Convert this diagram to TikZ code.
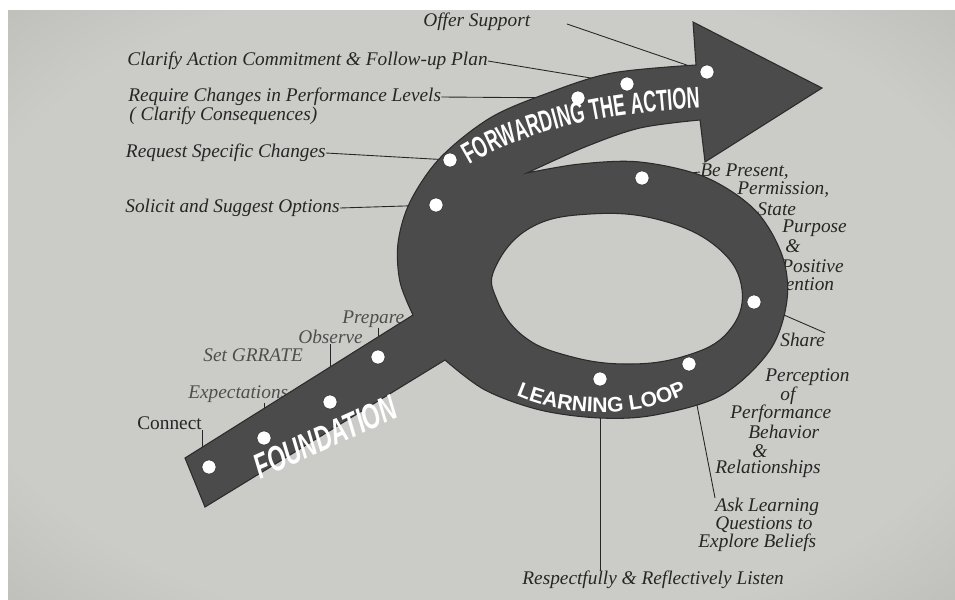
\documentclass[tikz,border=0pt]{standalone}
\usepackage{fontspec}
\setmainfont{Liberation Serif}
\newfontfamily\bandfont[FakeStretch=0.66]{Liberation Sans}
\newfontfamily\fwdfamily[FakeStretch=0.6]{Liberation Sans}
\newfontfamily\loopfont{Liberation Sans}
\usetikzlibrary{decorations.text}
\definecolor{pagec}{HTML}{CBCBC7}
\definecolor{paged}{HTML}{AAAAA5}
\definecolor{pagek}{HTML}{7E7E79}
\definecolor{shapec}{HTML}{4B4B4B}
\definecolor{edgec}{HTML}{2B2B2B}
\definecolor{inkc}{HTML}{262626}
\definecolor{fadec}{HTML}{4E4E4E}
\pgfdeclareradialshading{vignette}{\pgfpoint{0bp}{0bp}}{%
  color(0bp)=(pagec); color(28bp)=(pagec); color(50bp)=(paged); color(71bp)=(pagek)}
\newcommand\fwdfont{\fwdfamily\bfseries\fontsize{17}{17}\selectfont\color{white}}
\newcommand\loopfnt{\loopfont\bfseries\fontsize{12}{12}\selectfont\color{white}}
\tikzset{
  lbl/.style={font=\itshape\fontsize{11}{13}\selectfont, text=inkc, inner sep=0pt},
  ulbl/.style={lbl, font=\fontsize{11}{13}\selectfont},
  flbl/.style={lbl, text=fadec},
  lead/.style={draw=inkc, line width=0.5pt},
  dot/.style={circle, fill=white, draw=edgec, line width=0.3pt, inner sep=0pt, minimum size=0.28cm},
  band/.style={fill=shapec, draw=edgec, line width=0.6pt, even odd rule},
  fndtxt/.style={font=\bandfont\bfseries\itshape\fontsize{20}{20}\selectfont, text=white, inner sep=0pt},
}

\begin{document}
\begin{tikzpicture}[x=0.02cm, y=-0.02cm]
  \useasboundingbox (0,0) rectangle (955,599);
  \fill[white] (0,0) rectangle (955,599);
  \shade[shading=vignette] (8,10) rectangle (955,599);

  % dot places
  \coordinate (fwd1) at (707,72);
  \coordinate (fwd2) at (627,84);
  \coordinate (fwd3) at (578,98);
  \coordinate (fwd4) at (450,160);
  \coordinate (fwd5) at (436,205);
  \coordinate (loop1) at (642,178);
  \coordinate (loop2) at (754,302);
  \coordinate (loop3) at (689,364);
  \coordinate (loop4) at (600,379);
  \coordinate (fnd1) at (209,467);
  \coordinate (fnd2) at (264,438);
  \coordinate (fnd3) at (330,402);
  \coordinate (fnd4) at (378,357);

  % forwarding the action labels
  \node[lbl, anchor=west] (offer) at (423,22) {Offer Support};
  \coordinate (offerlead) at (567,24);
  \node[lbl, anchor=east] (clarify) at (488,61) {Clarify Action Commitment \& Follow-up Plan};
  \node[lbl, anchor=west] (require) at (128,97) {Require Changes in Performance Levels};
  \node[lbl, anchor=west] (conseq) at (129,116) {( Clarify Consequences)};
  \node[lbl, anchor=east] (request) at (326,153) {Request Specific Changes};
  \node[lbl, anchor=west] (solicit) at (125,208) {Solicit and Suggest Options};
  \draw[lead] (offerlead) -- (fwd1);
  \draw[lead] (clarify.east) -- (fwd2);
  \draw[lead] (require.east) -- (fwd3);
  \draw[lead] (request.east) -- (fwd4);
  \draw[lead] (solicit.east) -- (fwd5);

  % learning loop labels
  \node[lbl, anchor=west] (bepresent) at (700,172) {Be Present,};
  \node[lbl, anchor=west] (permission) at (737,190) {Permission,};
  \node[lbl, anchor=west] (state) at (757,209) {State};
  \node[lbl, anchor=west] (purpose) at (782,228) {Purpose};
  \node[lbl, anchor=west] (amp1) at (785,246) {\&};
  \node[lbl, anchor=west] (positive) at (781,266) {Positive};
  \node[lbl, anchor=west] (intention) at (764,284) {Intention};
  \node[lbl, anchor=west] (share) at (780,340) {Share};
  \node[lbl, anchor=west] (perception) at (765,377) {Perception};
  \node[lbl, anchor=west] (of) at (780,396) {of};
  \node[lbl, anchor=west] (performance) at (730,414) {Performance};
  \node[lbl, anchor=west] (behavior) at (748,432) {Behavior};
  \node[lbl, anchor=west] (amp2) at (752,451) {\&};
  \node[lbl, anchor=west] (relations) at (715,469) {Relationships};
  \node[lbl, anchor=west] (ask) at (715,507) {Ask Learning};
  \node[lbl, anchor=west] (questions) at (715,525) {Questions to};
  \node[lbl, anchor=west] (explore) at (698,543) {Explore Beliefs};
  \node[lbl, anchor=west] (respect) at (522,580) {Respectfully \& Reflectively Listen};
  \draw[lead] (bepresent.west) -- (loop1);
  \draw[lead] (loop2) -- (share.north east);
  \draw[lead] (loop3) -- (ask.north west);
  \draw[lead] (respect.north -| loop4) -- (loop4);

  % foundation labels
  \node[ulbl, anchor=west] (connect) at (137,423) {Connect};
  \node[flbl, anchor=west] (expect) at (188,394) {Expectations};
  \node[flbl, anchor=west] (setgr) at (203,355) {Set GRRATE};
  \node[flbl, anchor=west] (observe) at (298,337) {Observe};
  \node[flbl, anchor=west] (prepare) at (342,319) {Prepare};
  \draw[lead] (connect.south east) -- (connect.south east |- fnd1);
  \draw[lead] (expect.south -| fnd2) -- (fnd2);
  \draw[lead] (observe.south -| fnd3) -- (fnd3);
  \draw[lead] (prepare.south -| fnd4) -- (fnd4);

  % the arrow: foundation, learning loop, forwarding the action
  \path[band]
    (185,458) -- (413,315)
    -- plot[smooth, tension=0.55] coordinates {(413,315) (400,282) (398,243) (410,202) (440,158) (490,118) (548,93) (612,73) (696,65)}
    -- (693,22) -- (822,88) -- (705,162) -- (700,120)
    -- plot[smooth, tension=0.55] coordinates {(700,120) (640,128) (585,147) (527,173)}
    -- plot[smooth, tension=0.55] coordinates {(527,173) (580,164) (640,162) (705,177) (755,210) (782,255) (787,300) (770,350) (722,395) (655,415) (600,418) (540,410) (485,390) (445,360)}
    -- (205,507) -- cycle
    plot[smooth cycle, tension=0.7] coordinates {(495,268) (530,228) (590,214) (660,220) (718,248) (742,290) (728,332) (685,356) (625,364) (565,355) (522,335) (497,300)};

  \foreach \d in {fwd1,fwd2,fwd3,fwd4,fwd5,loop1,loop2,loop3,loop4,fnd1,fnd2,fnd3,fnd4}
    \node[dot] (\d-hole) at (\d) {};

  \path[decorate, decoration={text along path, text align=center,
      text={|\fwdfont|FORWARDING THE ACTION}}]
    (464,168) .. controls (525,130) and (605,112) .. (706,108);
  \path[decorate, decoration={text along path, text align=center,
      text={|\loopfnt|LEARNING LOOP}}]
    (505,390) .. controls (560,420) and (645,420) .. (698,388);
  \node[fndtxt, rotate=24] (fndtext) at (325,437) {FOUNDATION};
\end{tikzpicture}
\end{document}
